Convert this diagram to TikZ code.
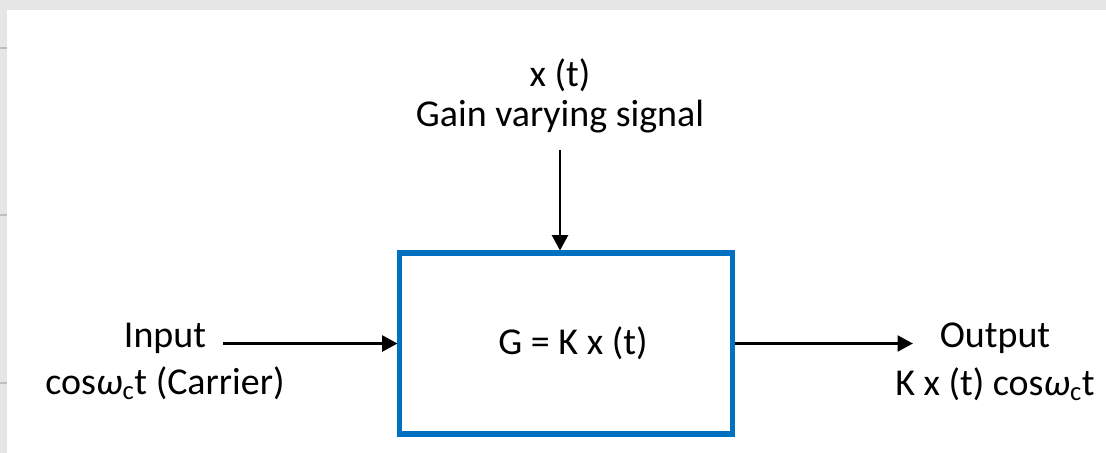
\documentclass[tikz,border=0pt]{standalone}
\usepackage{fontspec}
\setmainfont{Carlito}
\usetikzlibrary{positioning, arrows.meta}
\definecolor{gainblue}{RGB}{0, 112, 192}
\definecolor{framegray}{RGB}{230, 230, 230}
\definecolor{tickgray}{RGB}{190, 190, 190}

\begin{document}
\begin{tikzpicture}[x=0.025cm, y=-0.025cm, every node/.style={align=center, font=\fontsize{27}{32}\selectfont},
    gainbox/.style={draw=gainblue, line width=3.6pt, minimum width=8.3cm, minimum height=4.525cm},
    sig/.style={-{Triangle[length=0.38cm, width=0.4cm]}, line width=1.5pt}]
    % screenshot frame
    \useasboundingbox (0,0) rectangle (1106,453);
    \fill[framegray] (0,0) rectangle (1106,453);
    \fill[white] (7,10) rectangle (1106,453);
    \foreach \ty in {48,215,383}
      \draw[tickgray, line width=1pt] (0,\ty) -- (7,\ty);

    \node[gainbox] (mod) at (566,343.5) {\hspace*{0.35cm}G = K x (t)};

    \node (xt) at (560,75) {x (t)};
    \node (gain) at (560,117) {Gain varying signal};

    \node (in) at (165,338) {Input};
    \node (carrier) at (165,383) {cos\textit{ω}\textsubscript{c}t (Carrier)};

    \node (out) at (995,338) {Output};
    \node (outsig) at (995,384) {K x (t) cos\textit{ω}\textsubscript{c}t};

    \draw[sig, shorten <=0.3cm] (gain.south) -- (gain.south |- mod.north);
    \draw[sig, shorten <=0.3cm] (in.east |- mod.west) -- (mod.west);
    \draw[sig, shorten >=0.55cm] (mod.east) -- (mod.east -| out.west);
  \end{tikzpicture}
\end{document}
